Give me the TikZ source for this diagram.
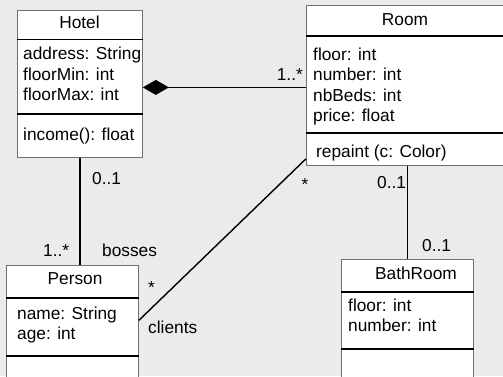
\documentclass[tikz,border=0pt]{standalone}
\usepackage{fontspec}
\setmainfont{Liberation Sans}
\usetikzlibrary{arrows.meta}
\definecolor{bggray}{HTML}{EBEBEB}
\definecolor{boxgray}{HTML}{707070}

\begin{document}
\begin{tikzpicture}[x=1pt,y=-1pt,
  classbox/.style={draw=boxgray,fill=white,line width=0.8pt,anchor=north west,inner sep=0pt},
  sepline/.style={line width=1.8pt},
  assoc/.style={line width=1.4pt},
  txt/.style={inner sep=0pt,font=\fontsize{17.3}{20.5}\selectfont},
  attrs/.style={txt,align=left,anchor=north west}]
\clip (0,0) rectangle (503,376);
\fill[bggray] (0,0) rectangle (503,376);

% class boxes
\node[classbox,minimum width=125pt,minimum height=147pt] (hotel) at (17,10) {};
\node[classbox,minimum width=202pt,minimum height=160pt] (room) at (306,5) {};
\node[classbox,minimum width=132pt,minimum height=135pt] (person) at (6,265) {};
\node[classbox,minimum width=132pt,minimum height=141pt] (bath) at (341,259) {};

% compartments
\draw[sepline] ([yshift=-29.5pt]hotel.north west) -- ([yshift=-29.5pt]hotel.north east);
\draw[sepline] ([yshift=-104pt]hotel.north west) -- ([yshift=-104pt]hotel.north east);
\draw[sepline] ([yshift=-31pt]room.north west) -- ([yshift=-31pt]room.north east);
\draw[sepline] ([yshift=-128pt]room.north west) -- ([yshift=-128pt]room.north east);
\draw[sepline] ([yshift=-33pt]person.north west) -- ([yshift=-33pt]person.north east);
\draw[sepline] ([yshift=-91pt]person.north west) -- ([yshift=-91pt]person.north east);
\draw[sepline] ([yshift=-33pt]bath.north west) -- ([yshift=-33pt]bath.north east);
\draw[sepline] ([yshift=-90pt]bath.north west) -- ([yshift=-90pt]bath.north east);

% texts
\node[txt,anchor=base] (hotelname) at (79.5,28.5) {Hotel};
\node[attrs] (hotelattrs) at (23,47) {address: String\\floorMin: int\\floorMax: int};
\node[txt,anchor=base west] (hotelops) at (23,140) {income(): float};

\node[txt,anchor=base] (roomname) at (405,25) {Room};
\node[attrs] (roomattrs) at (313,47.4) {floor: int\\number: int\\nbBeds: int\\price: float};
\node[txt,anchor=base west] (roomops) at (316,157) {repaint (c: Color)};

\node[txt,anchor=base] (personname) at (75,284.3) {Person};
\node[attrs] (personattrs) at (17,306.5) {name: String\\age: int};

\node[txt,anchor=base] (bathname) at (416,279.3) {BathRoom};
\node[attrs] (bathattrs) at (348,298.4) {floor: int\\number: int};

% associations
\draw[assoc,{Diamond[length=26pt,width=15pt]}-] ([yshift=-3.5pt]hotel.east) -- ([yshift=-2pt]room.west);
\draw[assoc] (hotel.south) -- (hotel.south |- person.north);
\draw[assoc] ([yshift=7pt]room.south west) -- ([yshift=12.5pt]person.east);
\draw[assoc] (room.south) -- (bath.north);

% multiplicities and roles
\node[txt,anchor=base east] (mroom) at (303,80) {1..*};
\node[txt,anchor=base west] (mhotel) at (92,184) {0..1};
\node[txt,anchor=base west] (mbosses) at (43,256) {1..*};
\node[txt,anchor=base west] (rbosses) at (102,256) {bosses};
\node[txt,anchor=base west] (mclients) at (148,293) {*};
\node[txt,anchor=base west] (rclients) at (148,333) {clients};
\node[txt,anchor=base west] (mroomc) at (301.5,190.5) {*};
\node[txt,anchor=base west] (mroomb) at (377,188) {0..1};
\node[txt,anchor=base west] (mbath) at (422,251.5) {0..1};
\end{tikzpicture}
\end{document}
